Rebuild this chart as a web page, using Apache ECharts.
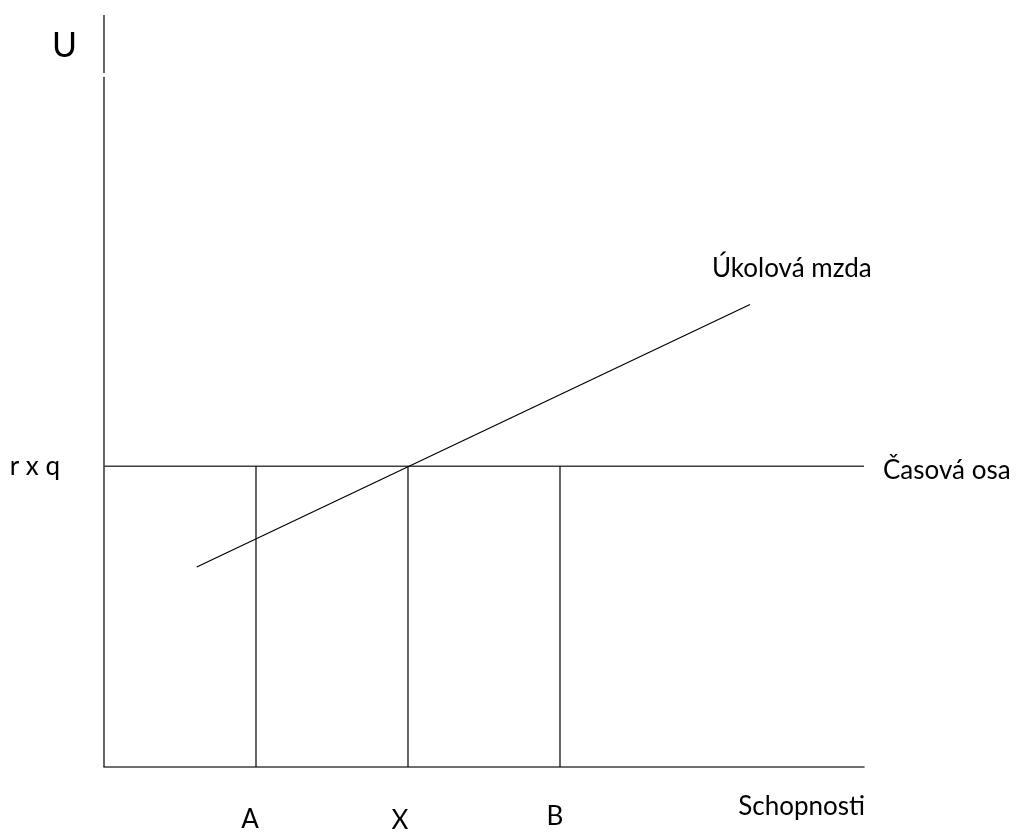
<!DOCTYPE html>
<html>
<head>
<meta charset="utf-8">
<script src="https://cdn.jsdelivr.net/npm/echarts@6/dist/echarts.min.js"></script>
<style>
  html, body { margin: 0; padding: 0; background: #fff; }
  #chart { width: 1017px; height: 834px; }
</style>
</head>
<body>
<div id="chart"></div>
<script>
// x positions of the marked abilities and their tick labels
const tickValues = [2, 4, 6];
const tickNames = ["A", "X", "B"];
// time wage level (r x q)
const timeWage = 4;
const timeWageLabel = "r x q";
// piece wage line, two end points
const pieceWage = [[1.22, 2.66], [8.5, 6.15]];
// horizontal time-wage line
const timeLine = [[0, 4], [10, 4]];
// the vertical U axis is drawn in two pieces (small break near the top)
const uAxisLow = [[0, 0], [0, 9.18]];
const uAxisHigh = [[0, 9.23], [0, 10]];

let dom = document.getElementById("chart");
let myChart = echarts.init(dom, null, { renderer: "canvas" });

const font = "Lato";
let lineStyle = { color: "#000", width: 1.2 };

function segment(data, style) {
  return {
    type: "line",
    data: data,
    symbol: "none",
    lineStyle: style,
    silent: true,
  };
}

let verticals = tickValues.map((v) => segment([[v, 0], [v, timeWage]], lineStyle));

let labelStyle = { fontFamily: font, fontSize: 26, color: "#000" };

let option = {
  animation: false,
  grid: { left: 104, right: 153, top: 15, bottom: 64 },
  xAxis: {
    type: "value",
    min: 0,
    max: 10,
    splitLine: { show: false },
    axisTick: { show: false },
    axisLine: { lineStyle: { color: "#404040", width: 1.6 } },
    axisLabel: {
      customValues: tickValues,
      margin: 36,
      formatter: (v) => {
        let i = tickValues.indexOf(v);
        return "{l" + i + "|" + tickNames[i] + "}";
      },
      rich: {
        l0: Object.assign({ padding: [4, 12, 0, 0] }, labelStyle),
        l1: Object.assign({ padding: [5, 16, 0, 0] }, labelStyle),
        l2: Object.assign({ padding: [1, 10, 0, 0] }, labelStyle),
      },
    },
  },
  yAxis: {
    type: "value",
    min: 0,
    max: 10,
    splitLine: { show: false },
    axisTick: { show: false },
    axisLine: { show: false },
    axisLabel: {
      customValues: [timeWage],
      margin: 44,
      fontFamily: font,
      fontSize: 26,
      color: "#000",
      formatter: () => timeWageLabel,
    },
  },
  graphic: [
    { type: "text", x: 52, y: 46, style: { text: "U", font: "34px Lato", fill: "#000", verticalAlign: "middle" } },
    { type: "text", x: 712, y: 269, style: { text: "Úkolová mzda", font: "26px Lato", fill: "#000", verticalAlign: "middle" } },
    { type: "text", x: 883, y: 471, style: { text: "Časová osa", font: "26px Lato", fill: "#000", verticalAlign: "middle" } },
    { type: "text", x: 865, y: 807, style: { text: "Schopnosti", font: "26px Lato", fill: "#000", align: "right", verticalAlign: "middle" } },
  ],
  series: [
    segment(uAxisLow, lineStyle),
    segment(uAxisHigh, lineStyle),
    segment(timeLine, { color: "#404040", width: 1.5 }),
    segment(pieceWage, lineStyle),
  ].concat(verticals),
};

myChart.setOption(option);
window.addEventListener("resize", myChart.resize);
</script>
</body>
</html>
